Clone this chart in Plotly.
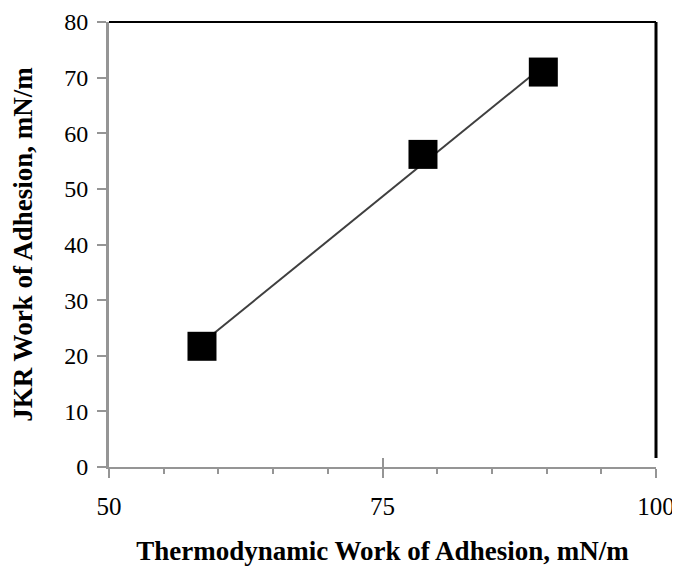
import numpy as np
import plotly.graph_objects as go

# Data
thermo_work = [58.5, 78.7, 89.7]   # Thermodynamic work of adhesion, mN/m
jkr_work = [21.7, 56.2, 71.0]      # JKR work of adhesion, mN/m
x_ticks = [50, 75, 100]
y_ticks = [0, 10, 20, 30, 40, 50, 60, 70, 80]

# Linear trendline (as in the original chart), from min to max x
slope, intercept = np.polyfit(thermo_work, jkr_work, 1)
trend_x = [min(thermo_work), max(thermo_work)]
trend_y = [slope * v + intercept for v in trend_x]

GRAY = "#959595"
FONT = "Liberation Serif"

fig = go.Figure()
fig.add_trace(go.Scatter(x=trend_x, y=trend_y, mode="lines",
                         line=dict(color="#3f3f3f", width=2), showlegend=False))
fig.add_trace(go.Scatter(x=thermo_work, y=jkr_work, mode="markers",
                         marker=dict(symbol="square", size=29, color="black",
                                     line=dict(width=0)), showlegend=False))
# overlay axis to make major x ticks cross the axis line
fig.add_trace(go.Scatter(x=[None], y=[None], xaxis="x2", showlegend=False))

fig.update_layout(
    width=672, height=563,
    margin=dict(l=101, r=24, t=14, b=104),
    plot_bgcolor="white", paper_bgcolor="white",
    font=dict(family=FONT, color="black"),
    xaxis=dict(range=[50, 100], tickvals=x_ticks, ticks="outside", ticklen=9,
               tickwidth=2, tickcolor=GRAY, showline=True, linecolor=GRAY,
               linewidth=2, showgrid=False, zeroline=False, automargin=False,
               tickfont=dict(size=25, family=FONT, color="black"),
               ticklabelstandoff=7,
               minor=dict(dtick=5, ticks="outside", ticklen=5, tickwidth=2,
                          tickcolor=GRAY),
               title=dict(text="<b>Thermodynamic Work of Adhesion, mN/m</b>",
                          font=dict(size=27, family=FONT, color="black"),
                          standoff=22)),
    xaxis2=dict(range=[50, 100], overlaying="x", matches="x", tickvals=x_ticks,
                ticks="inside", ticklen=9, tickwidth=2, tickcolor=GRAY,
                showticklabels=False, showgrid=False, zeroline=False,
                showline=False, side="bottom", automargin=False),
    yaxis=dict(range=[0, 80], tickvals=y_ticks, ticks="outside", ticklen=9,
               tickwidth=2, tickcolor=GRAY, showline=True, linecolor=GRAY,
               linewidth=3, showgrid=False, zeroline=False, automargin=False,
               tickfont=dict(size=24, family=FONT, color="black"),
               ticklabelstandoff=4,
               title=dict(text="<b>JKR Work of Adhesion, mN/m</b>",
                          font=dict(size=27, family=FONT, color="black"),
                          standoff=32)),
    shapes=[
        dict(type="line", xref="paper", yref="paper", x0=0, x1=1, y0=1, y1=1,
             line=dict(color="black", width=2)),
        dict(type="line", xref="paper", yref="paper", x0=1, x1=1, y0=1, y1=0.02,
             line=dict(color="black", width=3)),
    ],
)

fig.write_html("out.html")
